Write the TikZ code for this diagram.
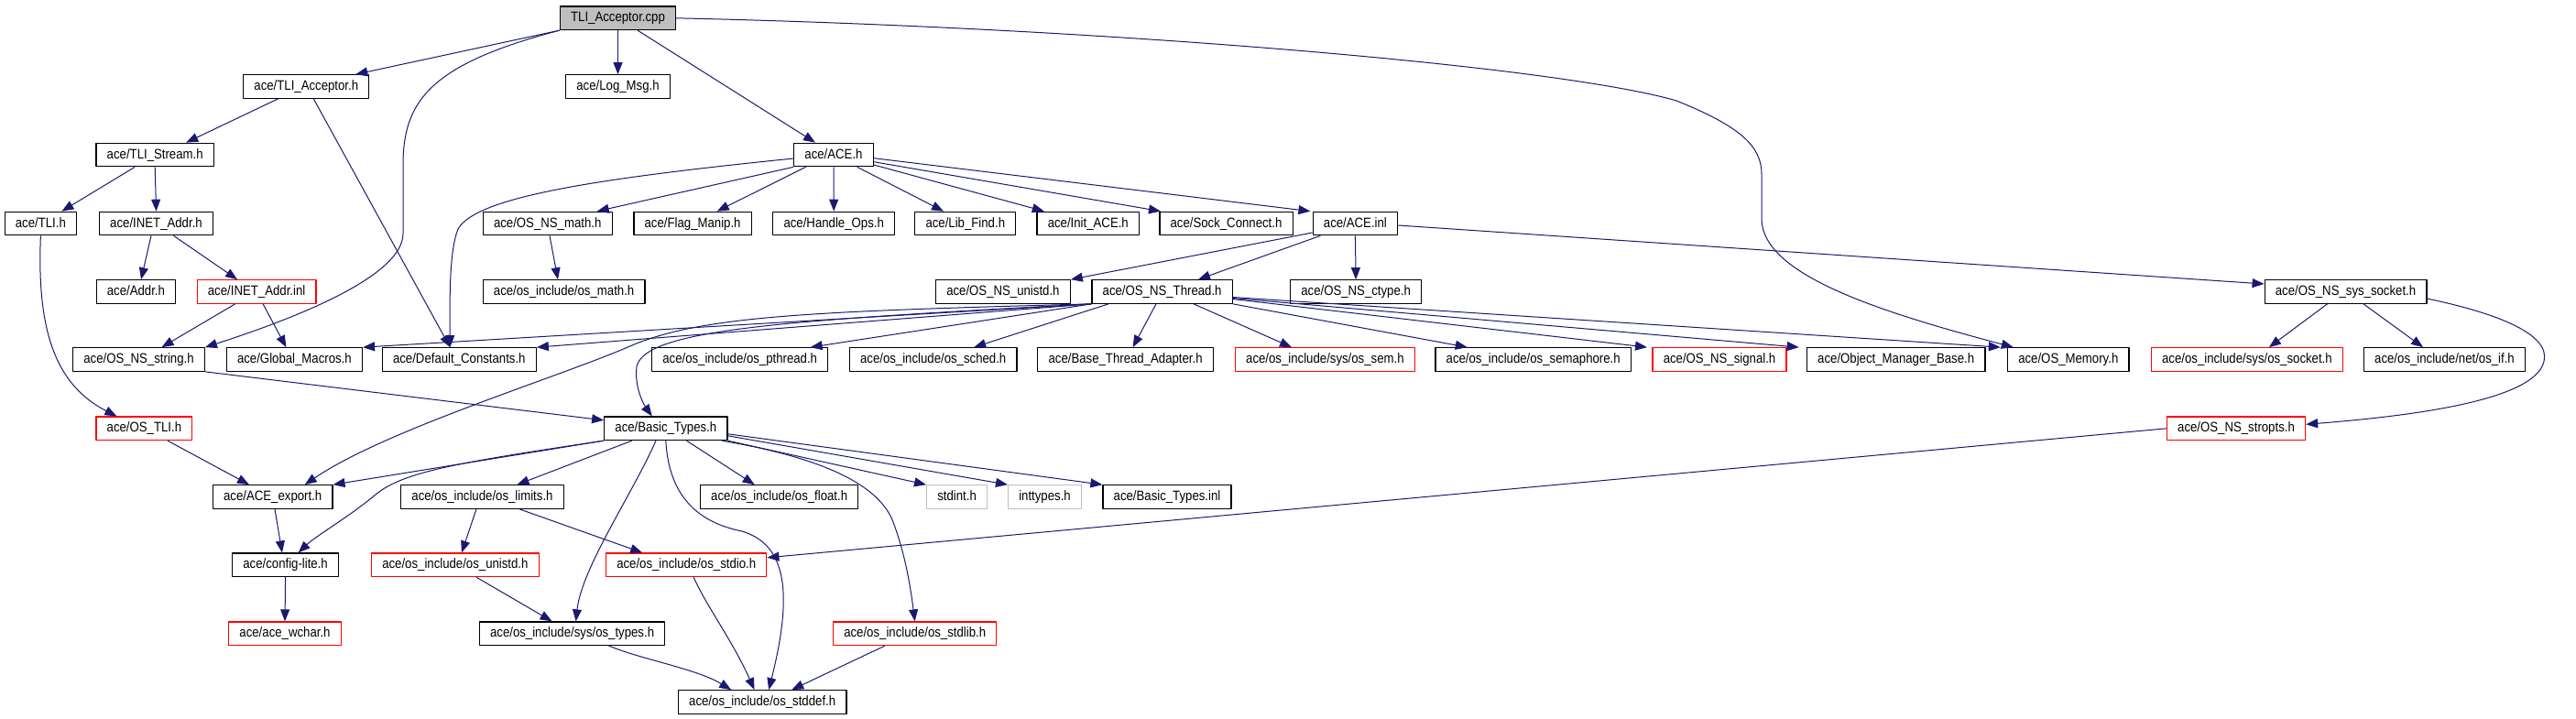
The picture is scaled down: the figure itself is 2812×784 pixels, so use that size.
\documentclass[tikz,border=0pt]{standalone}
\usepackage{fontspec}
\setmainfont{Liberation Sans}[FakeStretch=0.88]
\usetikzlibrary{arrows.meta}
\definecolor{edgeblue}{HTML}{191970}
\definecolor{rootgray}{HTML}{BFBFBF}
\begin{document}
\begin{tikzpicture}[x=1pt, y=-1pt, font=\fontsize{15}{18}\selectfont, line join=round, >={Triangle[length=13pt,width=10pt]},
    hdr/.style={draw=black, line width=1.2pt, inner xsep=11.7pt, inner ysep=0pt, minimum height=25.5pt, text height=11pt, text depth=3pt},
    hdrred/.style={hdr, draw=red},
    hdrgray/.style={hdr, draw=rootgray},
    srcfile/.style={hdr, fill=rootgray},
    dep/.style={->, draw=edgeblue, fill=none, line width=1pt}]
    \useasboundingbox (0,0) rectangle (2812,784);
    \node[srcfile] (cpp) at (674.5,19.8) {TLI\_Acceptor.cpp};
    \node[hdr] (acceptorh) at (334.3,94.5) {ace/TLI\_Acceptor.h};
    \node[hdr] (logmsg) at (674.5,94.5) {ace/Log\_Msg.h};
    \node[hdr] (stream) at (169.2,169) {ace/TLI\_Stream.h};
    \node[hdr] (aceh) at (910,169) {ace/ACE.h};
    \node[hdr] (tli) at (44.4,244) {ace/TLI.h};
    \node[hdr] (inetaddr) at (170.5,244) {ace/INET\_Addr.h};
    \node[hdr] (nsmath) at (597.7,244) {ace/OS\_NS\_math.h};
    \node[hdr] (flagmanip) at (756.1,244) {ace/Flag\_Manip.h};
    \node[hdr] (handleops) at (910.2,244) {ace/Handle\_Ops.h};
    \node[hdr] (libfind) at (1053.8,244) {ace/Lib\_Find.h};
    \node[hdr] (initace) at (1187.8,244) {ace/Init\_ACE.h};
    \node[hdr] (sockconnect) at (1338.5,244) {ace/Sock\_Connect.h};
    \node[hdr] (aceinl) at (1479.4,244) {ace/ACE.inl};
    \node[hdr] (addr) at (148.4,318.5) {ace/Addr.h};
    \node[hdrred] (inetinl) at (280.1,318.5) {ace/INET\_Addr.inl};
    \node[hdr] (osmath) at (615.6,318.5) {ace/os\_include/os\_math.h};
    \node[hdr] (nsunistd) at (1094.9,318.5) {ace/OS\_NS\_unistd.h};
    \node[hdr] (nsthread) at (1268.6,318.5) {ace/OS\_NS\_Thread.h};
    \node[hdr] (nsctype) at (1480.1,318.5) {ace/OS\_NS\_ctype.h};
    \node[hdr] (nssocket) at (2560.5,318.5) {ace/OS\_NS\_sys\_socket.h};
    \node[hdr] (nsstring) at (151.5,392.5) {ace/OS\_NS\_string.h};
    \node[hdr] (globalmacros) at (321.4,392.5) {ace/Global\_Macros.h};
    \node[hdr] (defconst) at (501.3,392.5) {ace/Default\_Constants.h};
    \node[hdr] (pthread) at (807.7,392.5) {ace/os\_include/os\_pthread.h};
    \node[hdr] (sched) at (1018.7,392.5) {ace/os\_include/os\_sched.h};
    \node[hdr] (threadadapter) at (1228.6,392.5) {ace/Base\_Thread\_Adapter.h};
    \node[hdrred] (ossem) at (1446.4,392.5) {ace/os\_include/sys/os\_sem.h};
    \node[hdr] (semaphore) at (1673.7,392.5) {ace/os\_include/os\_semaphore.h};
    \node[hdrred] (nssignal) at (1877,392.5) {ace/OS\_NS\_signal.h};
    \node[hdr] (objmgr) at (2069.7,392.5) {ace/Object\_Manager\_Base.h};
    \node[hdr] (osmemory) at (2257.8,392.5) {ace/OS\_Memory.h};
    \node[hdrred] (ossocket) at (2452.9,392.5) {ace/os\_include/sys/os\_socket.h};
    \node[hdr] (osif) at (2668.5,392.5) {ace/os\_include/net/os\_if.h};
    \node[hdrred] (ostli) at (157.4,467.8) {ace/OS\_TLI.h};
    \node[hdr] (basictypes) at (726.8,467.8) {ace/Basic\_Types.h};
    \node[hdrred] (nsstropts) at (2441,467.8) {ace/OS\_NS\_stropts.h};
    \node[hdr] (aceexport) at (297.7,542.5) {ace/ACE\_export.h};
    \node[hdr] (limits) at (526.5,542.5) {ace/os\_include/os\_limits.h};
    \node[hdr] (osfloat) at (850.7,542.5) {ace/os\_include/os\_float.h};
    \node[hdrgray] (stdint) at (1044.6,542.5) {stdint.h};
    \node[hdrgray] (inttypes) at (1140.5,542.5) {inttypes.h};
    \node[hdr] (basicinl) at (1274,542.5) {ace/Basic\_Types.inl};
    \node[hdr] (configlite) at (311.6,616.8) {ace/config-lite.h};
    \node[hdrred] (osunistd) at (496.9,616.8) {ace/os\_include/os\_unistd.h};
    \node[hdrred] (stdio) at (749.2,616.8) {ace/os\_include/os\_stdio.h};
    \node[hdrred] (wchar) at (311,691.7) {ace/ace\_wchar.h};
    \node[hdr] (ostypes) at (624.6,691.7) {ace/os\_include/sys/os\_types.h};
    \node[hdrred] (stdlib) at (998.7,691.7) {ace/os\_include/os\_stdlib.h};
    \node[hdr] (stddef) at (832.2,766.5) {ace/os\_include/os\_stddef.h};
    \draw[dep] (cpp.south west) -- ([xshift=54pt]acceptorh.north);
    \draw[dep] (cpp.south west) .. controls (470,70) and (440,110) .. (440,180) -- (440,255) .. controls (440,300) and (330,345) .. (nsstring.north east);
    \draw[dep] (cpp.south) -- (logmsg.north);
    \draw[dep] ([xshift=21.5pt]cpp.south) -- ([xshift=-20pt]aceh.north);
    \draw[dep] (cpp.east) .. controls (1200,30) and (1700,72) .. (1830,110) .. controls (1900,138) and (1923,160) .. (1923,190) -- (1923,240) .. controls (1925,300) and (2050,340) .. ([xshift=-60pt]osmemory.north);
    \draw[dep] ([xshift=-30.7pt]acceptorh.south) -- ([xshift=34pt]stream.north);
    \draw[dep] ([xshift=8pt]acceptorh.south) -- ([xshift=-10pt]defconst.north);
    \draw[dep] ([xshift=-22pt]stream.south) -- ([xshift=23pt]tli.north);
    \draw[dep] (stream.south) -- (inetaddr.north);
    \draw[dep] (tli.south) .. controls (40,360) and (60,420) .. ([xshift=-30pt]ostli.north);
    \draw[dep] ([xshift=-5.5pt]inetaddr.south) -- ([xshift=5.6pt]addr.north);
    \draw[dep] ([xshift=19pt]inetaddr.south) -- ([xshift=-21pt]inetinl.north);
    \draw[dep] ([xshift=-23.4pt]inetinl.south) -- ([xshift=25pt]nsstring.north);
    \draw[dep] ([xshift=7pt]inetinl.south) -- ([xshift=-9pt]globalmacros.north);
    \draw[dep] (nsstring.south east) -- ([yshift=9pt]basictypes.west);
    \draw[dep] ([xshift=25.6pt]ostli.south) -- ([xshift=-25.7pt]aceexport.north);
    \draw[dep] ([yshift=-4pt]aceh.west) .. controls (650,195) and (520,215) .. (500,250) .. controls (490,275) and (491,330) .. ([xshift=-10pt]defconst.north);
    \draw[dep] (aceh.south west) -- ([xshift=54pt]nsmath.north);
    \draw[dep] ([xshift=-30.4pt]aceh.south) -- ([xshift=26.6pt]flagmanip.north);
    \draw[dep] (aceh.south) -- (handleops.north);
    \draw[dep] ([xshift=25.7pt]aceh.south) -- ([xshift=-23.8pt]libfind.north);
    \draw[dep] ([yshift=-11pt]aceh.east) -- ([xshift=-48pt]initace.north);
    \draw[dep] ([yshift=-7.7pt]aceh.east) -- ([xshift=-71.5pt]sockconnect.north);
    \draw[dep] ([yshift=-3.7pt]aceh.east) -- ([xshift=-49pt]aceinl.north);
    \draw[dep] ([xshift=2.3pt]nsmath.south) -- ([xshift=-6.6pt]osmath.north);
    \draw[dep] ([yshift=-10pt]aceinl.west) -- (nsunistd.north east);
    \draw[dep] ([xshift=-38pt]aceinl.south) -- ([xshift=39.4pt]nsthread.north);
    \draw[dep] (aceinl.south) -- (nsctype.north);
    \draw[dep] ([yshift=-2pt]aceinl.east) -- ([yshift=8.5pt]nssocket.west);
    \draw[dep] (nsthread.south west) -- (globalmacros.north east);
    \draw[dep] (nsthread.south west) -- (defconst.north east);
    \draw[dep] (nsthread.south west) .. controls (850,350) and (705,360) .. (695,400) .. controls (692,425) and (705,445) .. ([xshift=-15pt]basictypes.north);
    \draw[dep] (nsthread.south west) .. controls (880,340) and (760,345) .. (683,380) .. controls (600,415) and (420,470) .. ([xshift=35pt]aceexport.north);
    \draw[dep] (nsthread.south west) -- ([xshift=77pt]pthread.north);
    \draw[dep] ([xshift=-58.6pt]nsthread.south) -- ([xshift=44.5pt]sched.north);
    \draw[dep] ([xshift=-6.6pt]nsthread.south) -- ([xshift=8pt]threadadapter.north);
    \draw[dep] ([xshift=34.4pt]nsthread.south) -- ([xshift=-36.4pt]ossem.north);
    \draw[dep] (nsthread.south east) -- ([xshift=-72pt]semaphore.north);
    \draw[dep] ([yshift=-8pt]nsthread.east) -- ([xshift=-79pt]nssignal.north);
    \draw[dep] ([yshift=-7pt]nsthread.east) -- ([xshift=-106pt]objmgr.north);
    \draw[dep] ([yshift=-6pt]nsthread.east) -- ([xshift=-74pt]osmemory.north);
    \draw[dep] ([xshift=-20pt]nssocket.south) -- ([xshift=24pt]ossocket.north);
    \draw[dep] ([xshift=19.5pt]nssocket.south) -- ([xshift=-23.5pt]osif.north);
    \draw[dep] ([yshift=-7.5pt]nssocket.east) .. controls (2740,345) and (2790,370) .. (2775,400) .. controls (2755,440) and (2620,455) .. ([yshift=4.5pt]nsstropts.east);
    \draw[dep] (nsstropts.west) -- ([yshift=8pt]stdio.east);
    \draw[dep] (basictypes.south west) -- (aceexport.north east);
    \draw[dep] (basictypes.south west) .. controls (500,505) and (440,515) .. (410,540) .. controls (380,565) and (345,585) .. ([xshift=14pt]configlite.north);
    \draw[dep] ([xshift=-37pt]basictypes.south) -- ([xshift=38pt]limits.north);
    \draw[dep] ([xshift=-10.8pt]basictypes.south) .. controls (690,540) and (635,620) .. ([xshift=4pt]ostypes.north);
    \draw[dep] (basictypes.south) .. controls (730,540) and (760,570) .. (810,580) .. controls (860,595) and (865,650) .. ([xshift=7pt]stddef.north);
    \draw[dep] ([xshift=22.7pt]basictypes.south) -- ([xshift=-27pt]osfloat.north);
    \draw[dep] ([xshift=61pt]basictypes.south) .. controls (900,500) and (960,530) .. (975,570) .. controls (990,610) and (995,650) .. (stdlib.north);
    \draw[dep] (basictypes.south east) -- (stdint.north west);
    \draw[dep] ([yshift=-8pt]basictypes.east) -- (inttypes.north west);
    \draw[dep] ([yshift=-6pt]basictypes.east) -- (basicinl.north west);
    \draw[dep] ([xshift=-6.5pt]limits.south) -- ([xshift=7pt]osunistd.north);
    \draw[dep] ([xshift=40.5pt]limits.south) -- ([xshift=-48pt]stdio.north);
    \draw[dep] ([xshift=23pt]osunistd.south) -- ([xshift=-22pt]ostypes.north);
    \draw[dep] ([xshift=8pt]stdio.south) .. controls (770,660) and (800,700) .. ([xshift=-8.7pt]stddef.north);
    \draw[dep] ([xshift=40pt]ostypes.south) .. controls (700,720) and (760,730) .. ([xshift=-34pt]stddef.north);
    \draw[dep] ([xshift=-32.7pt]stdlib.south) -- ([xshift=32pt]stddef.north);
    \draw[dep] ([xshift=2.3pt]aceexport.south) -- ([xshift=-3.6pt]configlite.north);
    \draw[dep] (configlite.south) -- (wchar.north);
\end{tikzpicture}
\end{document}
